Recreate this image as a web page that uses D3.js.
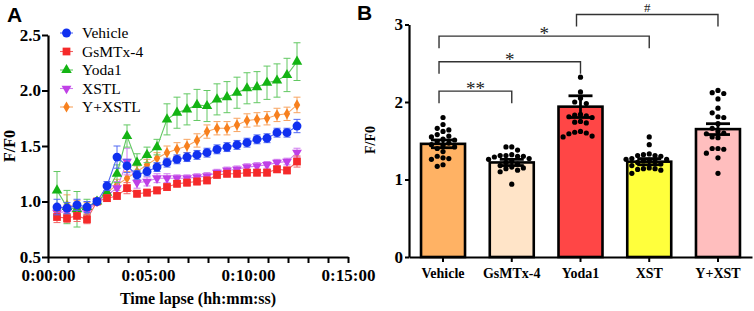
<!DOCTYPE html>
<html>
<head>
<meta charset="utf-8">
<script src="https://cdn.jsdelivr.net/npm/d3@7"></script>
<style>
body { margin: 0; background: #fff; }
svg { display: block; font-family: "Liberation Serif", "Times New Roman", serif; }
</style>
</head>
<body>
<svg></svg>
<script>
// ---- Panel A data (F/F0 over time) ----
const timeSec = [27, 57, 87, 117, 147, 177, 207, 237, 267, 297, 327, 357, 387, 417, 447, 477, 507, 537, 567, 597, 627, 657, 687, 717, 747];
const seriesNames = ['Vehicle', 'GsMTx-4', 'Yoda1', 'XSTL', 'Y+XSTL'];
const vehicleMean = [0.95, 0.94, 0.97, 0.95, 1.00, 1.14, 1.40, 1.32, 1.24, 1.27, 1.31, 1.35, 1.38, 1.40, 1.42, 1.44, 1.47, 1.49, 1.51, 1.53, 1.56, 1.57, 1.62, 1.62, 1.68];
const vehicleErr = [0.07, 0.05, 0.05, 0.05, 0, 0.04, 0.10, 0.06, 0.04, 0.04, 0.04, 0.04, 0.04, 0.04, 0.04, 0.04, 0.04, 0.04, 0.04, 0.04, 0.04, 0.04, 0.04, 0.04, 0.06];
const gsmtxMean = [0.86, 0.85, 0.87, 0.84, 1.00, 1.03, 1.05, 1.12, 1.07, 1.08, 1.10, 1.13, 1.16, 1.17, 1.18, 1.19, 1.24, 1.25, 1.25, 1.26, 1.26, 1.26, 1.29, 1.28, 1.36];
const gsmtxErr = [0.05, 0.04, 0.05, 0.04, 0, 0.03, 0.03, 0.05, 0.03, 0.03, 0.03, 0.03, 0.03, 0.03, 0.03, 0.03, 0.03, 0.03, 0.03, 0.03, 0.03, 0.03, 0.03, 0.03, 0.05];
const yodaMean = [1.10, 0.95, 0.93, 0.95, 1.00, 1.08, 1.25, 1.59, 1.35, 1.42, 1.49, 1.74, 1.80, 1.83, 1.87, 1.86, 1.92, 1.94, 1.98, 2.02, 2.03, 2.07, 2.09, 2.14, 2.26];
const yodaErr = [0.17, 0.15, 0.16, 0.07, 0, 0.06, 0.08, 0.10, 0.08, 0.07, 0.07, 0.14, 0.14, 0.14, 0.14, 0.14, 0.14, 0.14, 0.14, 0.14, 0.14, 0.15, 0.15, 0.15, 0.17];
const xstlMean = [0.90, 0.91, 0.92, 0.91, 1.00, 1.06, 1.12, 1.36, 1.17, 1.18, 1.21, 1.21, 1.21, 1.21, 1.22, 1.23, 1.26, 1.28, 1.29, 1.31, 1.32, 1.33, 1.35, 1.36, 1.44];
const xstlErr = [0.05, 0.06, 0.05, 0.05, 0, 0.04, 0.06, 0.12, 0.05, 0.04, 0.04, 0.04, 0.03, 0.03, 0.03, 0.03, 0.03, 0.03, 0.03, 0.03, 0.03, 0.03, 0.03, 0.03, 0.04];
const yxstlMean = [0.92, 0.97, 0.95, 0.94, 1.00, 1.08, 1.15, 1.21, 1.27, 1.33, 1.39, 1.44, 1.47, 1.50, 1.55, 1.63, 1.66, 1.66, 1.69, 1.73, 1.74, 1.75, 1.78, 1.79, 1.87];
const yxstlErr = [0.05, 0.09, 0.06, 0.05, 0, 0.04, 0.05, 0.06, 0.05, 0.05, 0.05, 0.06, 0.06, 0.06, 0.06, 0.06, 0.06, 0.06, 0.06, 0.06, 0.06, 0.06, 0.06, 0.06, 0.07];
const timeTicksMin = [0, 1, 2, 3, 4, 5, 6, 7, 8, 9, 10, 11, 12, 13, 14, 15];
const timeLabelsMin = [0, 5, 10, 15];
const fTicksA = [0.5, 1.0, 1.5, 2.0, 2.5];

// ---- Panel B data ----
const groups = ['Vehicle', 'GsMTx-4', 'Yoda1', 'XST', 'Y+XST'];
const barMeans = [1.46, 1.22, 1.94, 1.23, 1.65];
const barSem = [0.05, 0.04, 0.14, 0.04, 0.07];
const vehicleDots = [1.80, 1.71, 1.66, 1.64, 1.62, 1.58, 1.56, 1.55, 1.52, 1.51, 1.49, 1.47, 1.45, 1.44, 1.42, 1.40, 1.36, 1.30, 1.28, 1.27, 1.26, 1.19, 1.17];
const gsmtxDots = [1.42, 1.42, 1.38, 1.32, 1.31, 1.31, 1.30, 1.30, 1.29, 1.27, 1.26, 1.24, 1.22, 1.20, 1.18, 1.16, 1.15, 1.14, 1.12, 1.10, 0.94];
const yodaDots = [2.32, 2.13, 2.05, 2.00, 1.98, 1.84, 1.83, 1.82, 1.81, 1.80, 1.75, 1.74, 1.73, 1.62, 1.61, 1.60, 1.59, 1.56, 1.55];
const xstDots = [1.55, 1.45, 1.33, 1.32, 1.31, 1.31, 1.30, 1.27, 1.26, 1.26, 1.25, 1.24, 1.23, 1.22, 1.20, 1.18, 1.15, 1.14, 1.14, 1.13, 1.12, 1.08];
const yxstDots = [2.15, 2.12, 2.11, 2.04, 1.92, 1.86, 1.81, 1.80, 1.72, 1.66, 1.62, 1.60, 1.59, 1.55, 1.54, 1.40, 1.40, 1.39, 1.34, 1.28, 1.08];
const comparisons = [
	{ from: 0, to: 1, label: '**', level: 2.14 },
	{ from: 0, to: 2, label: '*', level: 2.52 },
	{ from: 0, to: 3, label: '*', level: 2.85 },
	{ from: 2, to: 4, label: '#', level: 3.13 }
];
const fTicksB = [0, 1, 2, 3];

const width = 754;
const height = 311;

const svg = d3.select('svg')
	.attr('width', width)
	.attr('height', height);

const seriesColors = ['#1030f0', '#f52a2a', '#14b414', '#c040e6', '#f7801e'];
const lineColors = ['#5068f2', '#f26464', '#62c862', '#d07cef', '#f8a460'];
const symbols = [
	d3.symbol().type(d3.symbolCircle).size(62),
	d3.symbol().type(d3.symbolSquare).size(60),
	d3.symbol().type(d3.symbolTriangle).size(48),
	d3.symbol().type(d3.symbolTriangle).size(42),
	d3.symbol().type(d3.symbolDiamond).size(36)
];
const symbolRotate = [0, 0, 0, 180, 0];

function styleAxis(g, fontSize) {
	g.select('.domain').attr('stroke', '#000').attr('stroke-width', 2.2);
	g.selectAll('.tick line').attr('stroke', '#000').attr('stroke-width', 2);
	g.selectAll('.tick text')
		.attr('fill', '#000')
		.attr('font-weight', 'bold')
		.attr('font-size', fontSize)
		.attr('font-family', '"Liberation Serif", "Times New Roman", serif');
}

// ================= Panel A =================
function panelA(selection) {
	const series = [
		{ mean: vehicleMean, err: vehicleErr },
		{ mean: gsmtxMean, err: gsmtxErr },
		{ mean: yodaMean, err: yodaErr },
		{ mean: xstlMean, err: xstlErr },
		{ mean: yxstlMean, err: yxstlErr }
	];

	const xScale = d3.scaleLinear().domain([0, 15]).range([48, 348]);
	const yScale = d3.scaleLinear().domain([0.5, 2.5]).range([257, 35]);

	const g = selection.append('g').attr('class', 'panel-a');

	// series drawn last-to-first so Vehicle sits on top
	d3.range(series.length).reverse().forEach(si => {
		const s = series[si];
		const pts = timeSec.map((t, i) => ({ t: t / 60, m: s.mean[i], e: s.err[i] }));
		const sg = g.append('g');

		sg.selectAll('g.err').data(pts.filter(d => d.e > 0)).enter()
			.append('g').attr('class', 'err')
			.each(function(d) {
				const eg = d3.select(this);
				const x = xScale(d.t);
				eg.append('line')
					.attr('x1', x).attr('x2', x)
					.attr('y1', yScale(d.m - d.e)).attr('y2', yScale(d.m + d.e));
				eg.append('line')
					.attr('x1', x - 3.5).attr('x2', x + 3.5)
					.attr('y1', yScale(d.m + d.e)).attr('y2', yScale(d.m + d.e));
				eg.append('line')
					.attr('x1', x - 3.5).attr('x2', x + 3.5)
					.attr('y1', yScale(d.m - d.e)).attr('y2', yScale(d.m - d.e));
			})
			.attr('stroke', lineColors[si])
			.attr('stroke-width', 1);

		sg.append('path')
			.datum(pts)
			.attr('fill', 'none')
			.attr('stroke', lineColors[si])
			.attr('stroke-width', 1.1)
			.attr('d', d3.line().x(d => xScale(d.t)).y(d => yScale(d.m)));

		sg.selectAll('path.mark').data(pts).enter()
			.append('path')
			.attr('class', 'mark')
			.attr('d', symbols[si])
			.attr('fill', seriesColors[si])
			.attr('transform', d => `translate(${xScale(d.t)},${yScale(d.m)}) rotate(${symbolRotate[si]})`);
	});

	const xAxis = d3.axisBottom(xScale)
		.tickValues(timeTicksMin)
		.tickFormat(d => timeLabelsMin.includes(d) ? `0:${String(d).padStart(2, '0')}:00` : '')
		.tickSize(6)
		.tickSizeOuter(0)
		.tickPadding(6);
	g.append('g')
		.attr('transform', 'translate(0,257)')
		.call(xAxis)
		.call(styleAxis, 17);

	const yAxis = d3.axisLeft(yScale)
		.tickValues(fTicksA)
		.tickFormat(d3.format('.1f'))
		.tickSize(6)
		.tickSizeOuter(0)
		.tickPadding(1);
	g.append('g')
		.attr('transform', 'translate(48,0)')
		.call(yAxis)
		.call(styleAxis, 17);

	g.append('text')
		.attr('x', 198).attr('y', 304)
		.attr('text-anchor', 'middle')
		.attr('font-weight', 'bold')
		.attr('font-size', 16)
		.text('Time lapse (hh:mm:ss)');

	g.append('text')
		.attr('transform', 'translate(15,146) rotate(-90)')
		.attr('text-anchor', 'middle')
		.attr('font-weight', 'bold')
		.attr('font-size', 16)
		.text('F/F0');

	g.append('text')
		.attr('x', 7).attr('y', 22)
		.attr('font-family', '"Liberation Sans", Arial, sans-serif')
		.attr('font-weight', 'bold')
		.attr('font-size', 21)
		.text('A');

	// legend
	const legend = g.append('g').attr('class', 'legend');
	const rows = legend.selectAll('g').data(seriesNames).enter()
		.append('g')
		.attr('transform', (d, i) => `translate(60,${33 + i * 18.5})`);
	rows.append('line')
		.attr('x1', 0).attr('x2', 13)
		.attr('stroke', (d, i) => lineColors[i])
		.attr('stroke-width', 1.1);
	rows.append('path')
		.attr('d', (d, i) => symbols[i]())
		.attr('fill', (d, i) => seriesColors[i])
		.attr('transform', (d, i) => `translate(6.5,0) rotate(${symbolRotate[i]})`);
	rows.append('text')
		.attr('x', 22).attr('y', 5)
		.attr('font-size', 15.5)
		.text(d => d);
}

// ================= Panel B =================
function swarm(values, r) {
	// spread dots sideways so they do not overlap
	const placed = [];
	const step = 2 * r + 0.6;
	values.forEach(v => {
		const y = yB(v);
		for (let k = 0; k < 40; k++) {
			const off = (k % 2 === 0 ? 1 : -1) * Math.ceil(k / 2) * step;
			if (placed.every(p => Math.hypot(p.dx - off, p.y - y) >= 2 * r + 0.3)) {
				placed.push({ dx: off, y: y, v: v });
				break;
			}
		}
	});
	return placed;
}

const xB = d3.scaleBand().domain(groups).range([409, 752]).paddingInner(0.36).paddingOuter(0.175);
const yB = d3.scaleLinear().domain([0, 3]).range([257, 24.5]);

function panelB(selection) {
	const barColors = ['#ffb264', '#ffe4c8', '#ff4646', '#ffff3c', '#ffbebe'];
	const dotSets = [vehicleDots, gsmtxDots, yodaDots, xstDots, yxstDots];
	const g = selection.append('g').attr('class', 'panel-b');

	g.selectAll('rect.bar').data(groups).enter()
		.append('rect')
		.attr('class', 'bar')
		.attr('x', d => xB(d))
		.attr('width', xB.bandwidth())
		.attr('y', (d, i) => yB(barMeans[i]))
		.attr('height', (d, i) => yB(0) - yB(barMeans[i]))
		.attr('fill', (d, i) => barColors[i])
		.attr('stroke', '#000')
		.attr('stroke-width', 2.6);

	groups.forEach((grp, gi) => {
		const cx = xB(grp) + xB.bandwidth() / 2;
		const dots = swarm(dotSets[gi], 2.6);
		g.append('g').selectAll('circle').data(dots).enter()
			.append('circle')
			.attr('cx', d => cx + d.dx)
			.attr('cy', d => d.y)
			.attr('r', 2.6)
			.attr('fill', '#000');

		const top = yB(barMeans[gi] + barSem[gi]);
		const bot = yB(barMeans[gi] - barSem[gi]);
		const eg = g.append('g').attr('stroke', '#000').attr('stroke-width', 2.8);
		eg.append('line').attr('x1', cx).attr('x2', cx).attr('y1', top).attr('y2', bot);
		eg.append('line').attr('x1', cx - 12).attr('x2', cx + 12).attr('y1', top).attr('y2', top);
		eg.append('line').attr('x1', cx - 12).attr('x2', cx + 12).attr('y1', bot).attr('y2', bot);
	});

	const xAxis = d3.axisBottom(xB).tickSize(5).tickSizeOuter(0).tickPadding(6);
	g.append('g')
		.attr('transform', 'translate(0,257)')
		.call(xAxis)
		.call(styleAxis, 14);

	const yAxis = d3.axisLeft(yB).tickValues(fTicksB).tickFormat(d3.format('d')).tickSize(4).tickSizeOuter(0).tickPadding(2);
	g.append('g')
		.attr('transform', 'translate(409,0)')
		.call(yAxis)
		.call(styleAxis, 17);

	// significance brackets
	const br = g.append('g').attr('class', 'brackets');
	comparisons.forEach(c => {
		const x1 = xB(groups[c.from]) + xB.bandwidth() / 2 - 4;
		const x2 = xB(groups[c.to]) + xB.bandwidth() / 2;
		const y = yB(c.level);
		br.append('path')
			.attr('d', `M${x1},${y + 12}V${y}H${x2}V${y + 12}`)
			.attr('fill', 'none')
			.attr('stroke', '#333')
			.attr('stroke-width', 1.4);
		br.append('text')
			.attr('x', (x1 + x2) / 2)
			.attr('y', c.label === '#' ? y - 2 : y + 4)
			.attr('text-anchor', 'middle')
			.attr('font-size', c.label === '#' ? 13 : 19)
			.attr('fill', '#222')
			.text(c.label);
	});

	g.append('text')
		.attr('transform', 'translate(375,140) rotate(-90)')
		.attr('text-anchor', 'middle')
		.attr('font-weight', 'bold')
		.attr('font-size', 14)
		.text('F/F0');

	g.append('text')
		.attr('x', 357).attr('y', 20)
		.attr('font-family', '"Liberation Sans", Arial, sans-serif')
		.attr('font-weight', 'bold')
		.attr('font-size', 21)
		.text('B');
}

svg.call(panelA);
svg.call(panelB);
</script>
</body>
</html>
